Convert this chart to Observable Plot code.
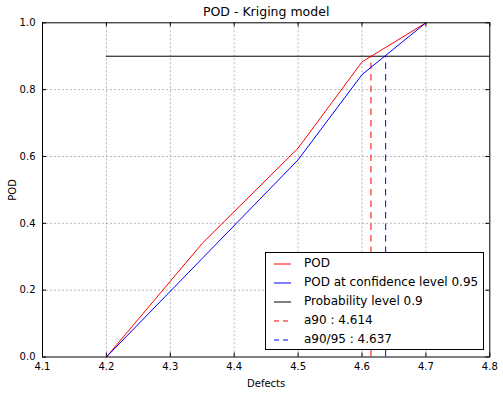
<!DOCTYPE html>
<html>
<head>
<meta charset="utf-8">
<script src="https://cdn.jsdelivr.net/npm/d3@7"></script>
<script src="https://cdn.jsdelivr.net/npm/@observablehq/plot@0.6"></script>
<style>
  body { margin: 0; background: #fff; }
  #wrap { position: relative; width: 503px; height: 393px; font-family: "DejaVu Sans", sans-serif; }
  #legend { position: absolute; left: 265px; top: 252px; width: 219px; height: 98px; border: 1px solid #000; background: #fff; box-sizing: border-box; }
  .li { position: absolute; left: 0; height: 19px; font-size: 12px; line-height: 19px; }
  .li svg { position: absolute; left: 8px; top: 0; }
  .li span { position: absolute; left: 38px; white-space: nowrap; }
</style>
</head>
<body>
<div id="wrap"></div>
<script>
const defects = [4.2, 4.35, 4.5, 4.6, 4.7];
const pod = [0, 0.34, 0.625, 0.883, 1.0];
const podCL = [0, 0.295, 0.59, 0.845, 1.0];
const probabilityLevel = 0.9;
const a90 = 4.614;
const a9095 = 4.637;
const xTicks = [4.1, 4.2, 4.3, 4.4, 4.5, 4.6, 4.7, 4.8];
const yTicks = [0, 0.2, 0.4, 0.6, 0.8, 1.0];
const legendItems = [
  {label: "POD", color: "red", dash: null},
  {label: "POD at confidence level 0.95", color: "blue", dash: null},
  {label: "Probability level 0.9", color: "black", dash: null},
  {label: "a90 : 4.614", color: "red", dash: "5,4"},
  {label: "a90/95 : 4.637", color: "blue", dash: "5,4"}
];

const podData = defects.map((d, i) => ({x: d, y: pod[i]}));
const podCLData = defects.map((d, i) => ({x: d, y: podCL[i]}));

const grid = {stroke: "#000", strokeOpacity: 0.35, strokeDasharray: "2,2", strokeWidth: 0.8};

const chart = Plot.plot({
  width: 503,
  height: 393,
  marginLeft: 42,
  marginRight: 13.7,
  marginTop: 22.3,
  marginBottom: 36.5,
  style: {fontFamily: "DejaVu Sans, sans-serif", fontSize: "10px", color: "#000", background: "#fff"},
  x: {domain: [4.1, 4.8]},
  y: {domain: [0, 1]},
  marks: [
    Plot.ruleX(xTicks.slice(1, -1), {x: d => d, ...grid}),
    Plot.ruleY(yTicks.slice(1, -1), {y: d => d, ...grid}),
    Plot.axisX(xTicks, {anchor: "bottom", tickSize: 0, tickPadding: 6, tickFormat: d3.format(".1f"), fontSize: 10, label: "Defects", labelAnchor: "center", labelArrow: "none", labelOffset: 30}),
    Plot.axisY(yTicks, {anchor: "left", tickSize: 0, tickPadding: 7, tickFormat: d3.format(".1f"), fontSize: 10, label: "POD", labelAnchor: "center", labelArrow: "none", labelOffset: 34}),
    Plot.tickX(xTicks, {x: d => d, insetTop: 330.2, stroke: "#000"}),
    Plot.tickX(xTicks, {x: d => d, insetBottom: 330.2, stroke: "#000"}),
    Plot.tickY(yTicks, {y: d => d, insetRight: 443.3, stroke: "#000"}),
    Plot.tickY(yTicks, {y: d => d, insetLeft: 443.3, stroke: "#000"}),
    Plot.ruleY([probabilityLevel], {x1: 4.2, x2: 4.8, y: d => d, stroke: "black", strokeWidth: 1}),
    Plot.ruleX([a90], {x: d => d, y1: 0, y2: probabilityLevel, stroke: "red", strokeDasharray: "6.5,5", strokeWidth: 1}),
    Plot.ruleX([a9095], {x: d => d, y1: 0, y2: probabilityLevel, stroke: "blue", strokeDasharray: "6.5,5", strokeWidth: 1}),
    Plot.line(podData, {x: "x", y: "y", stroke: "red", strokeWidth: 1}),
    Plot.line(podCLData, {x: "x", y: "y", stroke: "blue", strokeWidth: 1}),
    Plot.frame({stroke: "#000", strokeWidth: 1}),
    Plot.text(["POD - Kriging model"], {frameAnchor: "top", dy: -16, fontSize: 12.5, fill: "#000"})
  ]
});

const wrap = document.getElementById("wrap");
wrap.appendChild(chart);

const legend = document.createElement("div");
legend.id = "legend";
legendItems.forEach((it, i) => {
  const row = document.createElement("div");
  row.className = "li";
  row.style.top = (1 + i * 19) + "px";
  row.innerHTML = `<svg width="20" height="19"><line x1="0" x2="17" y1="10" y2="10" stroke="${it.color}" stroke-width="1" ${it.dash ? `stroke-dasharray="${it.dash}"` : ""}/></svg><span>${it.label}</span>`;
  legend.appendChild(row);
});
wrap.appendChild(legend);
</script>
</body>
</html>
